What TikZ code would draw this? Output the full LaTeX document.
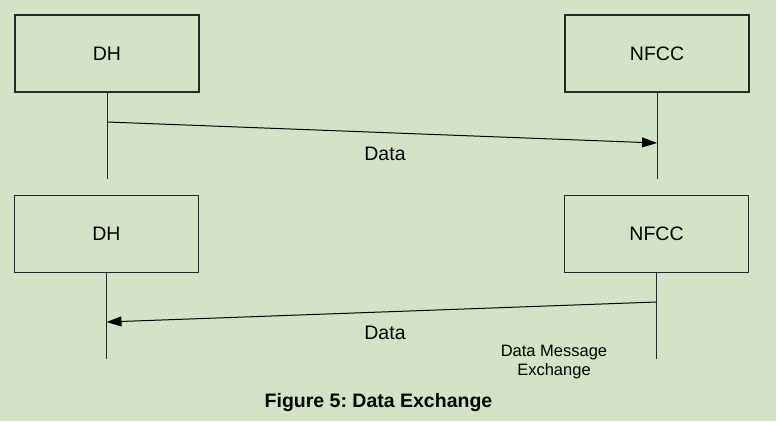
\documentclass[tikz,border=0pt]{standalone}
\usepackage{fontspec}
\setmainfont{Liberation Sans}
\usetikzlibrary{arrows.meta}
\definecolor{bggreen}{RGB}{212,227,200}
\definecolor{linegray}{RGB}{40,40,40}
\frenchspacing

\begin{document}
\begin{tikzpicture}[
            x = 1pt, y = -1pt, % pixel grid, top down
            > = {Triangle[length=15pt, width=10pt]}, % arrow head style
            line width = 1pt, % line style
            font = \fontsize{19.5}{23}\selectfont
        ]

        \tikzstyle{entity}=[
            draw = linegray,
            line width = 1.1pt,
            minimum width = 184pt,
            minimum height = 77pt,
            inner sep = 0pt
        ]
        \tikzstyle{lifeline}=[draw = linegray, line width = 1pt]
        \tikzstyle{msg}=[draw = black, line width = 1pt]

        % background and page size
        \fill[bggreen] (0,0) rectangle (776,421);
        \useasboundingbox (0,0) rectangle (776,421);

        % first exchange: DH -> NFCC
        \node[entity] (dh1) at (107,53.5) {DH};
        \node[entity] (nfcc1) at (657,53.5) {NFCC};
        \coordinate (dh1end) at (107,179);
        \coordinate (nfcc1end) at (657,179);
        \draw[lifeline] (dh1.south) -- (dh1end);
        \draw[lifeline] (nfcc1.south) -- (nfcc1end);
        \coordinate (m1from) at (107,122);
        \coordinate (m1to) at (657,143);
        \draw[msg, ->] (m1from) -- (m1to);
        \node (m1label) at (385,154) {Data};

        % second exchange: NFCC -> DH
        \node[entity] (dh2) at (106.5,234) {DH};
        \node[entity] (nfcc2) at (656.5,234) {NFCC};
        \coordinate (dh2end) at (106.5,359);
        \coordinate (nfcc2end) at (656.5,359);
        \draw[lifeline] (dh2.south) -- (dh2end);
        \draw[lifeline] (nfcc2.south) -- (nfcc2end);
        \coordinate (m2from) at (656.5,302);
        \coordinate (m2to) at (106.5,322);
        \draw[msg, ->] (m2from) -- (m2to);
        \node (m2label) at (385,333) {Data};

        \node[align=center, font=\fontsize{16.5}{19}\selectfont] (note) at (554,362) {Data Message\\Exchange};

        % caption
        \node[font=\fontsize{19.5}{23}\selectfont\bfseries] (caption) at (378.5,402.5) {Figure 5: Data Exchange};
    \end{tikzpicture}
\end{document}
